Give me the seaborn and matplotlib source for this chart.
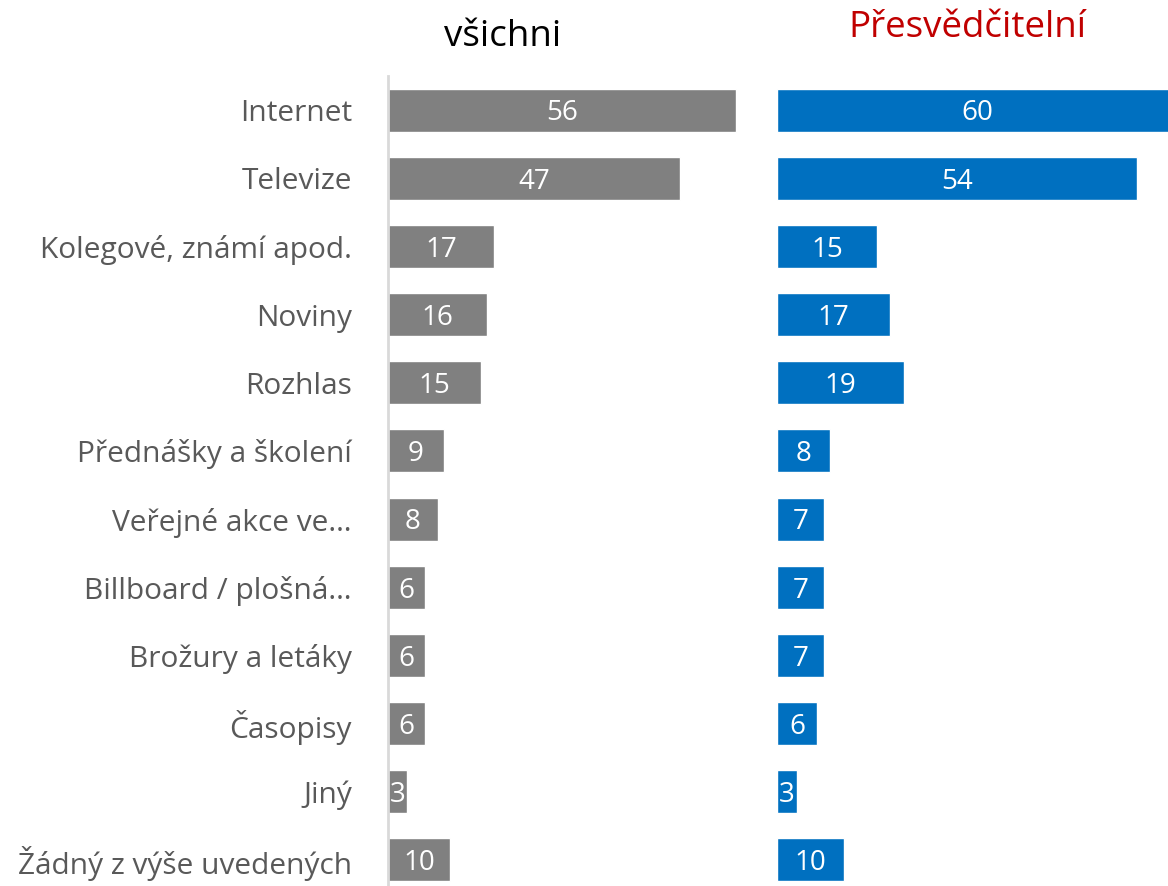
import matplotlib
matplotlib.use("Agg")
import matplotlib.pyplot as plt
import seaborn as sns
import pandas as pd

categories = ["Internet", "Televize", "Kolegové, známí apod.", "Noviny", "Rozhlas",
              "Přednášky a školení", "Veřejné akce ve…", "Billboard / plošná…",
              "Brožury a letáky", "Časopisy", "Jiný", "Žádný z výše uvedených"]
vsichni = [56, 47, 17, 16, 15, 9, 8, 6, 6, 6, 3, 10]
presvedcitelni = [60, 54, 15, 17, 19, 8, 7, 7, 7, 6, 3, 10]

sns.set_theme(style="white")
plt.rcParams['font.family'] = ['Open Sans', 'DejaVu Sans']

fig = plt.figure(figsize=(11.68, 8.86), dpi=100)
W, H = 1168, 886
top = 76
bottom = 894
ax1 = fig.add_axes([388 / W, 1 - bottom / H, 373 / W, (bottom - top) / H])
ax2 = fig.add_axes([777 / W, 1 - bottom / H, 391 / W, (bottom - top) / H])

df1 = pd.DataFrame({"cat": categories, "val": vsichni})
df2 = pd.DataFrame({"cat": categories, "val": presvedcitelni})

sns.barplot(data=df1, x="val", y="cat", orient="h", color="#808080",
            saturation=1, width=0.63, ax=ax1)
sns.barplot(data=df2, x="val", y="cat", orient="h", color="#0070C0",
            saturation=1, width=0.63, ax=ax2)

ax1.set_xlim(0, 60)
ax2.set_xlim(0, 58.6)

for ax, vals in ((ax1, vsichni), (ax2, presvedcitelni)):
    ax.set_ylim(len(categories) - 0.5, -0.5)
    ax.set_xlabel("")
    ax.set_ylabel("")
    ax.set_xticks([])
    for s in ax.spines.values():
        s.set_visible(False)
    # value labels centred in each bar
    for p, v in zip(ax.patches, vals):
        ax.text(p.get_x() + p.get_width() / 2, p.get_y() + p.get_height() / 2 + 0.05,
                str(v), ha="center", va="center", color="white", fontsize=20)

ax1.spines["left"].set_visible(True)
ax1.spines["left"].set_color("#D9D9D9")
ax1.spines["left"].set_linewidth(2)
ax1.tick_params(axis="y", length=0, pad=26, labelsize=21.5, labelcolor="#595959")
ax2.set_yticks([])

fig.text(503 / W, 1 - 37 / H, "všichni", ha="center", va="center", fontsize=26.5, color="black")
fig.text(967 / W, 1 - 28 / H, "Přesvědčitelní", ha="center", va="center", fontsize=26.5, color="#C00000")

fig.savefig("out.png", dpi=100)
